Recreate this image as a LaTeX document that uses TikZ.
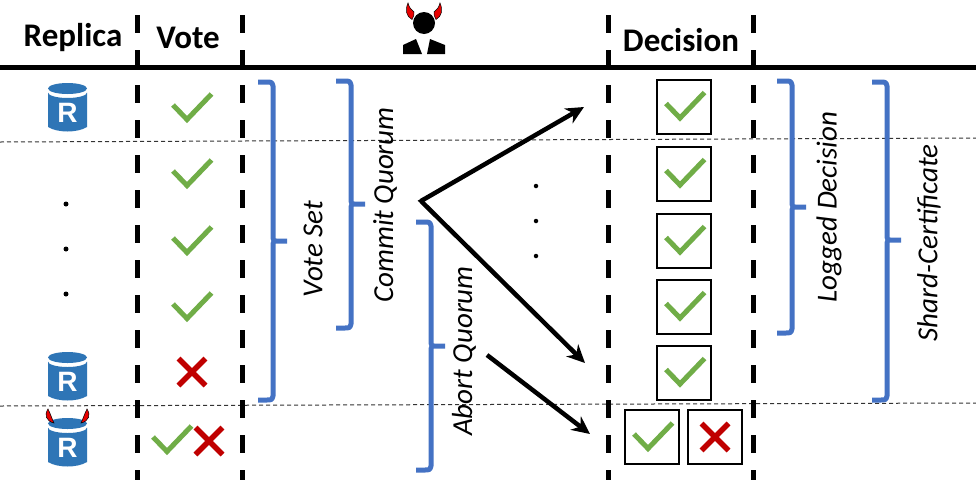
\documentclass[tikz,border=0pt]{standalone}
\usepackage{fontspec}
\setmainfont{Carlito}
\newfontfamily\rfont{Liberation Sans}
\usetikzlibrary{arrows.meta}
\definecolor{bracecol}{HTML}{4472C4}
\definecolor{chkcol}{HTML}{70AD47}
\definecolor{crosscol}{HTML}{C00000}
\definecolor{cylcol}{HTML}{2E75B6}
\definecolor{horncol}{HTML}{E80000}
\tikzset{
  head/.style={font=\fontsize{33}{38}\selectfont\bfseries,inner sep=0pt,anchor=center},
  slabel/.style={font=\fontsize{29}{34}\selectfont\itshape,rotate=90,inner sep=0pt,anchor=center},
  divider/.style={line width=5pt,dash pattern=on 18pt off 17pt,black},
  rowline/.style={line width=1pt,dash pattern=on 4pt off 3pt,black!80},
  bracep/.style={line width=5pt,bracecol,line join=round},
  chkline/.style={line width=5pt,chkcol},
  crossline/.style={line width=5.5pt,crosscol},
  tickbox/.style={draw=black,line width=2pt,minimum size=54pt,inner sep=0pt,outer sep=0pt,anchor=north west},
  arrowline/.style={line width=4.5pt,black,-{Stealth[length=18pt,width=17pt]}},
  dotmark/.style={circle,fill=black,minimum size=5pt,inner sep=0pt},
  horn/.style={fill=horncol,draw=black,line width=.5pt},
  chk/.pic={\draw[chkline] (0,0) -- (14,14.5) -- (38.5,-11);},
  crs/.pic={\draw[crossline] (-13.5,-13.5) -- (13.5,13.5) (-13.5,13.5) -- (13.5,-13.5);},
  cyl/.pic={
    \fill[cylcol] (-19.5,9.5) arc[start angle=180,end angle=360,x radius=19.5,y radius=-5.5]
       -- (19.5,44) .. controls (10,50) and (-10,50) .. (-19.5,44) -- cycle;
    \fill[cylcol] (0,5.5) ellipse[x radius=19.5,y radius=5.5];
    \draw[white,line width=1.4pt] (-19.5,7) arc[start angle=180,end angle=360,x radius=19.5,y radius=-6];
    \node[white,inner sep=0pt,font=\fontsize{28}{30}\selectfont\rfont\bfseries] at (0,30) {R};
  },
  pics/bracket/.style n args={3}{code={
    \draw[bracep] (-15,#1) -- (-6,#1) .. controls (-1,#1) and (0,#1+1) .. (0,#1+4)
      -- (0,#2-3) .. controls (0,#2-1) and (1,#2) .. (3,#2) -- (14,#2)
      (3,#2) .. controls (1,#2) and (0,#2+1) .. (0,#2+3)
      -- (0,#3-4) .. controls (0,#3-1) and (-1,#3) .. (-6,#3) -- (-15,#3);
  }},
}
\begin{document}
\begin{tikzpicture}[x=1pt,y=-1pt]
\useasboundingbox (0,0) rectangle (976,480);
\fill[white] (0,0) rectangle (976,480);

% row separators
\coordinate (ra) at (0,142); \coordinate (rb) at (976,138);
\coordinate (rc) at (0,406); \coordinate (rd) at (976,403);
\draw[rowline] (ra) -- (rb);
\draw[rowline] (rc) -- (rd);

% header rule
\coordinate (ha) at (0,67); \coordinate (hb) at (976,67);
\draw[line width=5pt] (ha) -- (hb);

% column dividers
\foreach \x in {137,242,608,753}{
  \draw[divider] (\x,15) -- (\x,480);
}

% headers
\node[head] (hreplica) at (73,38) {Replica};
\node[head] (hvote) at (188,38) {Vote};
\node[head] (hdecision) at (681,40) {Decision};

% adversary
\fill (424,23) circle[radius=11];
\fill (403,54) -- (403,45) -- (416,39) -- (422,54) -- cycle;
\fill (445,54) -- (445,45) -- (430,39) -- (427,54) -- cycle;
\draw[horn] (408,3) .. controls (405,10) and (406,16) .. (412,19.5) .. controls (414,17) and (414,14) .. (414,12) .. controls (411,10) and (409,7) .. (408,3) -- cycle;
\draw[horn] (440,3) .. controls (443,10) and (442,16) .. (436,19.5) .. controls (434,17) and (434,14) .. (434,12) .. controls (437,10) and (439,7) .. (440,3) -- cycle;

% replicas
\pic at (67.5,83) {cyl};
\pic at (67.5,352) {cyl};
\pic at (67.5,418) {cyl};
\draw[horn] (48,409) .. controls (44,415) and (46,421) .. (54,423) .. controls (52,419) and (51,415) .. (48,409) -- cycle;
\draw[horn] (87,409) .. controls (91,415) and (89,421) .. (81,423) .. controls (83,419) and (84,415) .. (87,409) -- cycle;
\node[dotmark] (da) at (66,204) {};
\node[dotmark] (db) at (66,249) {};
\node[dotmark] (dc) at (66,294) {};

% votes
\pic at (173,105) {chk};
\pic at (173,171) {chk};
\pic at (173,238) {chk};
\pic at (173,304) {chk};
\pic at (192,372) {crs};
\pic at (153,437) {chk};
\pic at (209,441) {crs};

% decisions
\node[tickbox] (b1) at (657,79.5) {};
\node[tickbox] (b2) at (657,146.5) {};
\node[tickbox] (b3) at (657,213.5) {};
\node[tickbox] (b4) at (657,279.5) {};
\node[tickbox] (b5) at (657,345.5) {};
\node[tickbox] (b6) at (625,410) {};
\node[tickbox] (b7) at (688,410) {};
\foreach \n in {b1,b2,b3,b4,b5,b6}{
  \pic at ([xshift=9pt,yshift=-24pt]\n.north west) {chk};
}
\pic at (b7.center) {crs};

% braces
\pic at (273,0) {bracket={82}{241}{400}};
\pic at (351,0) {bracket={81}{204}{328}};
\pic at (431,0) {bracket={222}{346}{470}};
\pic at (792,0) {bracket={81}{207}{333}};
\pic at (887,0) {bracket={82}{240}{400}};

% brace labels
\node[slabel] (lvote) at (313,249) {Vote Set};
\node[slabel] (lcommit) at (385,205) {Commit Quorum};
\node[slabel] (labort) at (464,351) {Abort Quorum};
\node[slabel] (llogged) at (829,207) {Logged Decision};
\node[slabel] (lshard) at (929,243) {Shard-Certificate};

% arrows
\coordinate (apex) at (421,201);
\coordinate (up) at (584,107);
\coordinate (down) at (585,363);
\coordinate (s2) at (487,355);
\coordinate (e2) at (590,434);
\fill (417.5,200.8) -- (424,197) -- (424,205) -- cycle;
\draw[arrowline] (apex) -- (up);
\draw[arrowline] (apex) -- (down);
\draw[arrowline] (s2) -- (e2);
\node[dotmark,minimum size=4.5pt] (dd) at (536,186) {};
\node[dotmark,minimum size=4.5pt] (de) at (536,221) {};
\node[dotmark,minimum size=4.5pt] (df) at (536,256) {};
\end{tikzpicture}
\end{document}
